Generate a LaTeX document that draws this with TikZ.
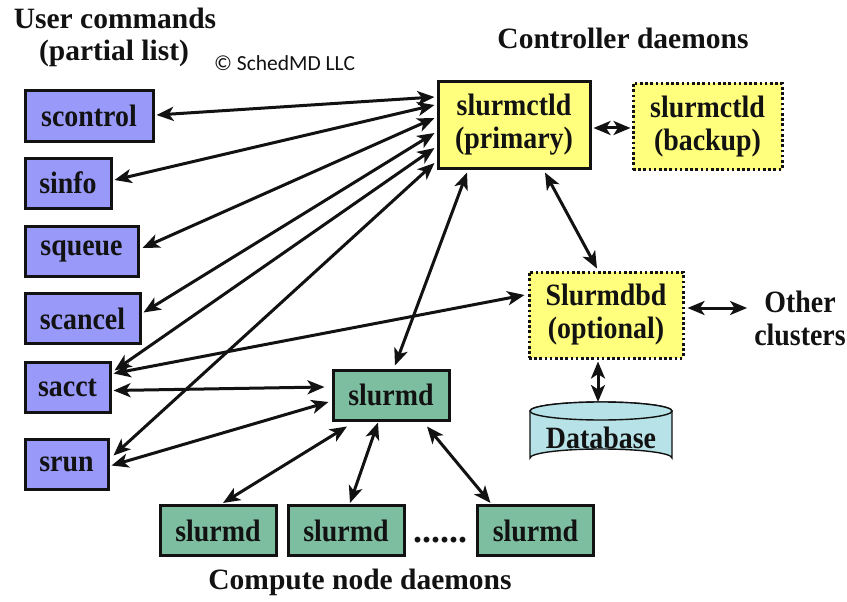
\documentclass[tikz,border=0pt]{standalone}
\usepackage{fontspec}
\setmainfont{Liberation Serif}
\newfontfamily\carlito{Carlito}
\newfontfamily\boxfont[FakeStretch=0.9]{Liberation Serif}
\usetikzlibrary{arrows.meta}
\definecolor{cmdfill}{RGB}{153,153,250}
\definecolor{ctlfill}{RGB}{255,255,125}
\definecolor{nodefill}{RGB}{126,190,160}
\definecolor{dbfill}{RGB}{182,226,232}
\definecolor{ink}{RGB}{18,18,18}

\begin{document}
\begin{tikzpicture}[x=1pt,y=-1pt,
  txt/.style={font=\bfseries\fontsize{29.5}{33}\selectfont, text=ink, align=center, inner sep=0pt},
  boxtxt/.style={font=\boxfont\bfseries\fontsize{31}{33}\selectfont, text=ink, align=center, inner sep=0pt},
  box/.style={boxtxt, draw=ink, line width=3pt},
  cmd/.style={box, fill=cmdfill, minimum height=50pt},
  daemon/.style={box, fill=ctlfill, minimum height=86pt},
  optbox/.style={daemon, dash pattern=on 2.6pt off 2.6pt},
  cnode/.style={box, fill=nodefill, minimum width=116pt, minimum height=50pt},
  biarrow/.style={{Stealth[length=17pt,width=14pt,inset=4.5pt]}-{Stealth[length=17pt,width=14pt,inset=4.5pt]}, line width=3pt, draw=ink}]

\useasboundingbox[fill=white] (0,0) rectangle (847,602);

% headings
\node[txt] (hcmd) at (115,18) {User commands};
\node[txt] (hlist) at (114,53) {(partial list)};
\node[anchor=west, inner sep=0pt, text=ink, font=\carlito\fontsize{21.5}{24}\selectfont] (copy) at (214,63) {© SchedMD LLC};
\node[txt] (hctl) at (623,38) {Controller daemons};
\node[txt] (hcomp) at (360,582) {Compute node daemons};

% user commands
\node[cmd, minimum width=128pt] (scontrol) at (89,116) {scontrol};
\node[cmd, minimum width=86pt] (sinfo) at (68,183) {sinfo};
\node[cmd, minimum width=113pt] (squeue) at (81.5,251) {squeue};
\node[cmd, minimum width=115pt] (scancel) at (82.5,318.5) {scancel};
\node[cmd, minimum width=85pt] (sacct) at (67.5,387.5) {sacct};
\node[cmd, minimum width=83pt] (srun) at (66.5,464.5) {srun};

% controller daemons
\node[daemon, minimum width=152pt] (ctl) at (514,125) {slurmctld\\(primary)};
\node[optbox, minimum width=149pt] (bak) at (707.5,126.5) {slurmctld\\(backup)};
\node[optbox, minimum width=154pt] (dbd) at (606,315) {Slurmdbd\\(optional)};
\node[boxtxt] (other) at (800,318) {Other\\clusters};

% database cylinder
\draw[ink, line width=1.4pt, fill=dbfill]
  (530,411) -- (530,458) arc[start angle=180, end angle=360, x radius=71, y radius=9]
  -- (672,411) arc[start angle=0, end angle=-180, x radius=71, y radius=9] -- cycle;
\draw[ink, line width=1.4pt, fill=dbfill] (601,411) ellipse[x radius=71, y radius=9];
\coordinate (dbtop) at (598,402);
\node[boxtxt] (db) at (601,438) {Database};

% compute nodes
\node[cnode] (slurmd) at (391,395) {slurmd};
\node[cnode] (sd1) at (218,530.5) {slurmd};
\node[cnode] (sd2) at (346,530.5) {slurmd};
\node[cnode] (sd3) at (535.5,530.5) {slurmd};
\node[boxtxt, font=\bfseries\fontsize{36}{36}\selectfont] (dots) at (440,540) {......};

% commands to the primary controller
\draw[biarrow] ([xshift=2pt,yshift=1pt]scontrol.east) -- ([xshift=-2pt,yshift=28pt]ctl.west);
\draw[biarrow] ([xshift=2pt,yshift=3pt]sinfo.east) -- ([xshift=-2pt,yshift=20pt]ctl.west);
\draw[biarrow] ([xshift=3pt,yshift=3pt]squeue.east) -- ([xshift=-2pt,yshift=7pt]ctl.west);
\draw[biarrow] ([xshift=2pt,yshift=6pt]scancel.east) -- ([xshift=-2pt,yshift=-8pt]ctl.west);
\draw[biarrow] ([xshift=3pt,yshift=17pt]sacct.east) -- ([xshift=-2pt,yshift=-23pt]ctl.west);
\draw[biarrow] ([xshift=4pt,yshift=9pt]srun.east) -- ([xshift=-2pt,yshift=-38pt]ctl.west);

% accounting and compute node links
\draw[biarrow] ([xshift=2pt,yshift=14pt]sacct.east) -- ([xshift=-3pt,yshift=20pt]dbd.west);
\draw[biarrow] ([xshift=2pt,yshift=-3pt]sacct.east) -- ([xshift=-7pt,yshift=8pt]slurmd.west);
\draw[biarrow] ([xshift=2pt,yshift=-1pt]srun.east) -- ([xshift=-3pt,yshift=-7pt]slurmd.west);

% controller links
\draw[biarrow] ([xshift=-47pt,yshift=-3pt]ctl.south) -- ([xshift=4pt,yshift=3pt]slurmd.north);
\draw[biarrow] ([xshift=31pt,yshift=-3pt]ctl.south) -- ([xshift=-9pt,yshift=2pt]dbd.north);
\draw[biarrow] ([xshift=2pt,yshift=-3pt]ctl.east) -- ([xshift=-1pt,yshift=-1.5pt]bak.west);
\draw[biarrow] ([xshift=3pt,yshift=7pt]dbd.east) -- ([xshift=-7pt,yshift=10pt]other.west);
\draw[biarrow] ([xshift=-8pt,yshift=-2pt]dbd.south) -- (dbtop);

% slurmd fan-out
\draw[biarrow] ([xshift=-44pt,yshift=-5pt]slurmd.south) -- ([xshift=5pt,yshift=1pt]sd1.north);
\draw[biarrow] ([xshift=-13pt,yshift=-1pt]slurmd.south) -- ([xshift=4pt,yshift=1pt]sd2.north);
\draw[biarrow] ([xshift=36pt,yshift=-5pt]slurmd.south) -- ([xshift=-45pt,yshift=1pt]sd3.north);
\end{tikzpicture}
\end{document}
